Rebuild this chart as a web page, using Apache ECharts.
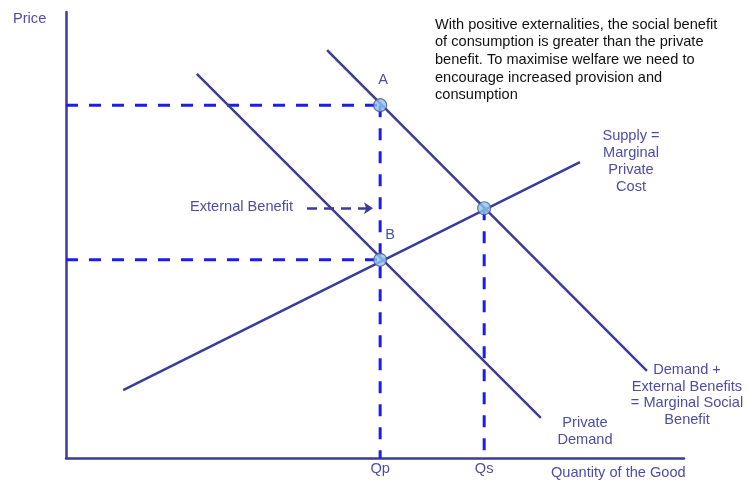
<!DOCTYPE html>
<html>
<head>
<meta charset="utf-8">
<script src="https://cdn.jsdelivr.net/npm/echarts@6/dist/echarts.min.js"></script>
<style>
  html, body { margin: 0; padding: 0; background: #ffffff; }
  #chart { width: 748px; height: 483px; }
</style>
</head>
<body>
<div id="chart"></div>
<script>
// curve end points (quantity, price)
const privateDemand = [[25.4, 77.5], [92.2, 8.1]];
const socialBenefit = [[50.7, 82.3], [112.8, 17.6]];
const supply = [[11.1, 13.7], [99.8, 59.7]];

// equilibria
const Qp = 61.0;
const Qs = 81.2;
const priceA = 71.2;
const priceB = 40.0;
const priceC = 50.4;

// external benefit arrow
const arrowFrom = [46.8, 50.4];
const arrowTo = [59.6, 50.4];

const note = [
  "With positive externalities, the social benefit",
  "of consumption is greater than the private",
  "benefit. To maximise welfare we need to",
  "encourage increased provision and",
  "consumption"
];

const lineColor = "#3b3b9c";
const dashColor = "#1c1cee";
const textColor = "#4d4da6";
const font = "Liberation Sans, Arial, sans-serif";
const size = "14.6px ";

const chart = echarts.init(document.getElementById("chart"));

function solid(data) {
  return {
    type: "line",
    data: data,
    symbol: "none",
    silent: true,
    lineStyle: { color: lineColor, width: 2.5 },
    z: 3
  };
}

function dashed(data) {
  return {
    type: "line",
    data: data,
    symbol: "none",
    silent: true,
    lineStyle: { color: dashColor, width: 3, type: [12, 11] },
    z: 2
  };
}

chart.setOption({
  animation: false,
  grid: { left: 66, top: 12, right: 64, bottom: 25 },
  xAxis: {
    type: "value",
    min: 0,
    max: 120,
    axisLine: { show: true, onZero: false, lineStyle: { color: lineColor, width: 2.5 } },
    axisTick: { show: false },
    axisLabel: { show: false },
    splitLine: { show: false }
  },
  yAxis: {
    type: "value",
    min: 0,
    max: 90,
    axisLine: { show: true, onZero: false, lineStyle: { color: lineColor, width: 2.5 } },
    axisTick: { show: false },
    axisLabel: { show: false },
    splitLine: { show: false }
  },
  series: [
    dashed([[0, priceA], [Qp, priceA]]),
    dashed([[0, priceB], [Qp, priceB]]),
    dashed([[Qp, priceA], [Qp, 0]]),
    dashed([[Qs, priceC], [Qs, 0]]),
    solid(privateDemand),
    solid(socialBenefit),
    solid(supply),
    {
      type: "lines",
      coordinateSystem: "cartesian2d",
      silent: true,
      symbol: ["none", "arrow"],
      symbolSize: 9,
      lineStyle: { color: lineColor, width: 2.5, type: [10, 7], opacity: 1 },
      data: [{ coords: [arrowFrom, arrowTo] }],
      z: 4
    },
    {
      type: "scatter",
      silent: true,
      symbolSize: 13,
      itemStyle: { color: "#8ec4f2", borderColor: "#4a5878", borderWidth: 1.2 },
      data: [[Qp, priceA], [Qp, priceB], [Qs, priceC]],
      z: 5
    }
  ]
});

const pA = chart.convertToPixel({ gridIndex: 0 }, [Qp, priceA]);
const pB = chart.convertToPixel({ gridIndex: 0 }, [Qp, priceB]);
const pQp = chart.convertToPixel({ gridIndex: 0 }, [Qp, 0]);
const pQs = chart.convertToPixel({ gridIndex: 0 }, [Qs, 0]);
const pArrow = chart.convertToPixel({ gridIndex: 0 }, arrowFrom);

function label(text, x, y, align, extra) {
  return {
    type: "text",
    x: x,
    y: y,
    silent: true,
    style: Object.assign({
      text: text,
      fill: textColor,
      font: size + font,
      align: align || "center",
      verticalAlign: "middle"
    }, extra || {})
  };
}

chart.setOption({
  graphic: [
    label("Price", 13, 19, "left"),
    label("A", pA[0] + 3, pA[1] - 25),
    label("B", pB[0] + 10, pB[1] - 25),
    label("External Benefit", pArrow[0] - 14, pArrow[1] - 1, "right"),
    label("Qp", pQp[0], pQp[1] + 11),
    label("Qs", pQs[0], pQs[1] + 11),
    label("Quantity of the Good", 551, 473, "left"),
    label("Supply =\nMarginal\nPrivate\nCost", 631, 161, "center", { lineHeight: 17 }),
    label("Demand +\nExternal Benefits\n= Marginal Social\nBenefit", 687, 395, "center", { lineHeight: 16.7 }),
    label("Private\nDemand", 585, 431, "center", { lineHeight: 17 }),
    label(note.join("\n"), 435, 60, "left", { fill: "#111111", lineHeight: 17.6 })
  ]
});
</script>
</body>
</html>
